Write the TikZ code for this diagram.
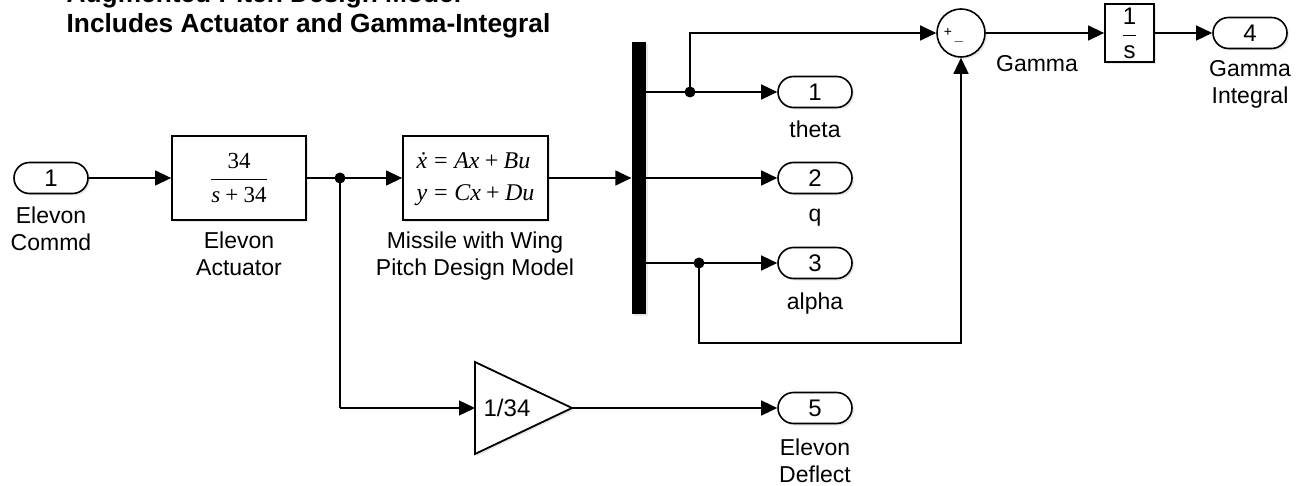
\documentclass[tikz,border=0pt]{standalone}
\usepackage[no-math]{fontspec}
\setmainfont{Liberation Sans}
\newfontfamily\tms{Liberation Serif}
\usetikzlibrary{arrows.meta,shapes.misc,shadows}
\begin{document}
\begin{tikzpicture}[x=1pt,y=-1pt,
  line width=1.3pt,
  sig/.style={-{Triangle[length=16pt,width=15pt]}},
  shd/.style={drop shadow={opacity=0.18,shadow xshift=2pt,shadow yshift=-2pt}},
  port/.style={draw, line width=1.6pt, rounded rectangle, minimum width=74pt, minimum height=31pt, inner sep=0pt, fill=white, shd, font=\fontsize{24}{24}\selectfont},
  blk/.style={draw, line width=1.8pt, fill=white, inner sep=0pt, shd},
  lbl/.style={font=\fontsize{23}{27}\selectfont, align=center, inner sep=0pt, anchor=base},
  jdot/.style={circle, fill, inner sep=0pt, minimum size=11pt},
  ttl/.style={font=\fontsize{26.3}{30}\bfseries\selectfont, anchor=base west, inner sep=0pt}]
\useasboundingbox (0,0) rectangle (1300,486);
% title
\node[ttl] (t1) at (66,3) {Augmented Pitch Design Model};
\node[ttl] (t2) at (66,33) {Includes Actuator and Gamma-Integral};
% blocks
\node[port] (in1) at (51,178) {1};
\node[lbl] (in1l) at (51,251) {Elevon\\Commd};
\node[blk, minimum width=134pt, minimum height=84pt, font=\fontsize{23}{26}\selectfont] (tf) at (239,178) {$\displaystyle\frac{\mbox{\tms 34}}{\mbox{\tms\itshape s\upshape\hspace{0.22em}+\hspace{0.22em}34}}$};
\node[lbl] (tfl) at (239,276) {Elevon\\Actuator};
\node[blk, minimum width=145pt, minimum height=84pt, font=\fontsize{24}{32}\selectfont\tms] (ss) at (475.5,178) {\begin{tabular}{@{}l@{}}\rlap{\hspace{0.12em}˙}\textit{x}\hspace{0.28em}=\hspace{0.28em}\textit{Ax}\hspace{0.22em}+\hspace{0.22em}\textit{Bu}\\ \textit{y}\hspace{0.28em}=\hspace{0.28em}\textit{Cx}\hspace{0.22em}+\hspace{0.22em}\textit{Du}\end{tabular}};
\node[lbl] (ssl) at (475,276) {Missile with Wing\\Pitch Design Model};
\node[fill, minimum width=14pt, minimum height=272pt, inner sep=0pt, shd] (mux) at (639,178) {};
\node[port] (o1) at (815,92) {1};
\node[lbl] (o1l) at (815,138) {theta};
\node[port] (o2) at (815,178) {2};
\node[lbl] (o2l) at (815,222) {q};
\node[port] (o3) at (815,263) {3};
\node[lbl] (o3l) at (815,309) {alpha};
\node[circle, draw, line width=1.6pt, fill=white, minimum size=48pt, inner sep=0pt, shd] (sum) at (961,33) {};
\node[font=\fontsize{14}{14}\selectfont, inner sep=0pt] (sp) at (948,32) {+};
\node[font=\fontsize{14}{14}\selectfont, inner sep=0pt] (sm) at (959,42) {$-$};
\node[lbl] (gl) at (1037,72) {Gamma};
\node[blk, minimum width=49pt, minimum height=58pt, font=\fontsize{24}{24}\selectfont] (integ) at (1129.5,33) {$\displaystyle\frac{\mbox{1}}{\mbox{s}}$};
\node[port] (o4) at (1250,33) {4};
\node[lbl] (o4l) at (1250,104) {Gamma\\Integral};
% gain triangle
\coordinate (gin) at (475,408);
\coordinate (gout) at (572,408);
\draw[line width=1.8pt, fill=white, shd, line join=miter] (475,362) -- (gout) -- (475,454) -- cycle;
\node[font=\fontsize{24}{24}\selectfont, inner sep=0pt] (gaint) at (507,408) {1/34};
\node[port] (o5) at (815,408) {5};
\node[lbl] (o5l) at (815,482) {Elevon\\Deflect};
% junctions
\node[jdot] (j1) at (340,178) {};
\node[jdot] (j2) at (690,92) {};
\node[jdot] (j3) at (699,263) {};
\coordinate (mux1) at (646,92);
\coordinate (mux2) at (646,178);
\coordinate (mux3) at (646,263);
\coordinate (c1) at (340,408);
\coordinate (c2) at (690,33);
\coordinate (c3) at (699,343);
\coordinate (c4) at (961,343);
% connectors
\draw[sig] (in1.east) -- (tf.west);
\draw (tf.east) -- (j1.center);
\draw[sig] (j1.center) -- (ss.west);
\draw (j1.center) -- (c1) ;
\draw[sig] (c1) -- (gin);
\draw[sig] (ss.east) -- (ss.east -| mux.west);
\draw (mux1) -- (j2.center);
\draw[sig] (j2.center) -- (o1.west);
\draw[sig] (mux2) -- (o2.west);
\draw (mux3) -- (j3.center);
\draw[sig] (j3.center) -- (o3.west);
\draw[sig] (j2.center) -- (c2) -- (c2 -| sum.west);
\draw[sig] (j3.center) -- (c3) -- (c4) -- (sum.south);
\draw[sig] (sum.east) -- (integ.west);
\draw[sig] (integ.east) -- (o4.west);
\draw[sig] (gout) -- (o5.west);
\end{tikzpicture}
\end{document}
